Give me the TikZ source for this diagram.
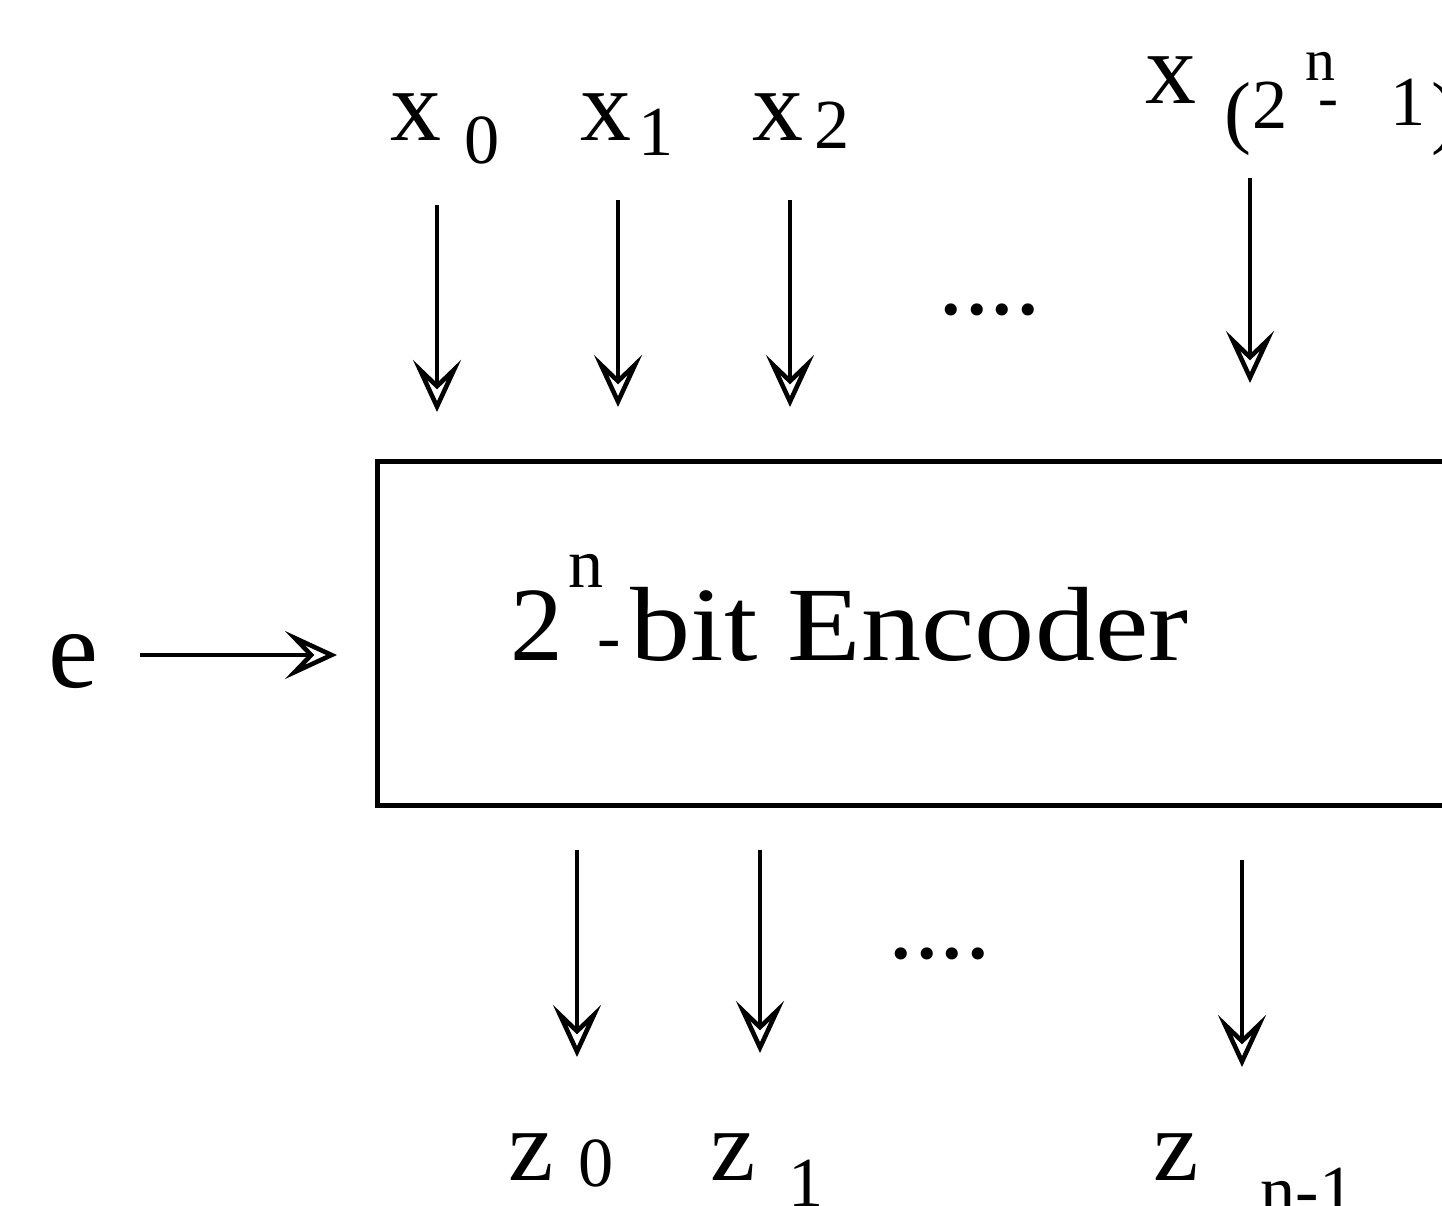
\documentclass[tikz,border=0pt]{standalone}
\usepackage{fontspec}
\setmainfont{Liberation Serif}
\usetikzlibrary{arrows.meta}
\begin{document}
\begin{tikzpicture}[x=0.01cm,y=-0.01cm,
  wire/.style={line width=1.4pt, -{Stealth[open,length=0.52cm,width=0.48cm,inset=0.23cm,line width=1.3pt]}},
  big/.style={inner sep=0, anchor=base west, font=\fontsize{29}{31}\selectfont},
  small/.style={inner sep=0, anchor=base west, font=\fontsize{20}{22}\selectfont},
  tiny/.style={inner sep=0, anchor=base west, font=\fontsize{17}{19}\selectfont},
  encbox/.style={draw, line width=1.4pt, minimum width=11.22cm, minimum height=3.43cm, inner sep=0}
]
\useasboundingbox (0,0) rectangle (1442,1205);
\clip (0,0) rectangle (1442,1205);
% box
\node[encbox] (enc) at (939,633.5) {};
\node[big, font=\fontsize{30}{32}\selectfont] (two) at (510,660) {2};
\node[small] (sn) at (568,587) {n};
\node[small] (sdash) at (597,660) {-};
\node[big, font=\fontsize{30}{32}\selectfont, xscale=1.14] (txt) at (630,660) {bit Encoder};
% enable
\node[big, font=\fontsize{32}{34}\selectfont] (e) at (48,687) {e};
\coordinate (es) at (140,655);
\coordinate (ee) at (337,655);
\draw[wire] (es) -- (ee);
% top inputs
\node[big] (x0) at (390,140) {x};
\node[small] (x0s) at (464,163) {0};
\node[big] (x1) at (580,140) {x};
\node[small] (x1s) at (638,155) {1};
\node[big] (x2) at (752,140) {x};
\node[small] (x2s) at (814,148) {2};
\node[big] (xn) at (1145,103) {x};
\node[small, font=\fontsize{23}{25}\selectfont] (xnp) at (1224,138) {(};
\node[small] (xns) at (1252,128) {2};
\node[tiny] (xnn) at (1305,80) {n};
\node[tiny] (xnd) at (1318,117) {-};
\node[small] (xn1) at (1390,125) {1};
\node[small, font=\fontsize{23}{25}\selectfont] (xnq) at (1431,138) {)};
\coordinate (a0s) at (437,205); \coordinate (a0e) at (437,412);
\coordinate (a1s) at (618,200); \coordinate (a1e) at (618,407);
\coordinate (a2s) at (790,200); \coordinate (a2e) at (790,407);
\coordinate (a3s) at (1250,178); \coordinate (a3e) at (1250,383);
\draw[wire] (a0s) -- (a0e);
\draw[wire] (a1s) -- (a1e);
\draw[wire] (a2s) -- (a2e);
\draw[wire] (a3s) -- (a3e);
\node[big] (dtop) at (938,314) {....};
% bottom outputs
\coordinate (b0s) at (577,850); \coordinate (b0e) at (577,1057);
\coordinate (b1s) at (760,850); \coordinate (b1e) at (760,1053);
\coordinate (b2s) at (1242,860); \coordinate (b2e) at (1242,1067);
\draw[wire] (b0s) -- (b0e);
\draw[wire] (b1s) -- (b1e);
\draw[wire] (b2s) -- (b2e);
\node[big] (dbot) at (888,958) {....};
\node[big] (z0) at (508,1180) {z};
\node[small] (z0s) at (578,1186) {0};
\node[big] (z1) at (710,1180) {z};
\node[small] (z1s) at (788,1206) {1};
\node[big] (zn) at (1153,1180) {z};
\node[small] (zns) at (1260,1214) {n-1};
\end{tikzpicture}
\end{document}
